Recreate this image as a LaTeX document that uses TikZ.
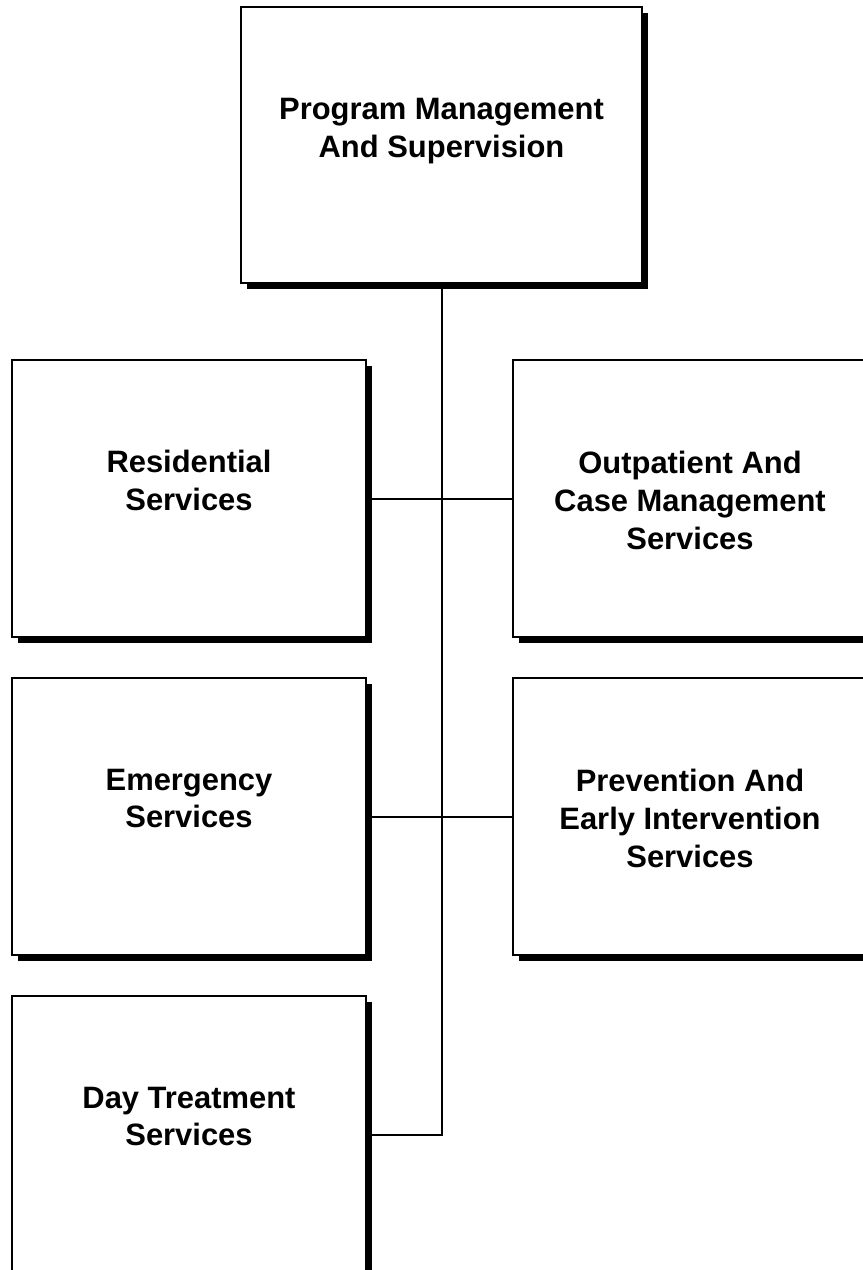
\documentclass[tikz,border=0pt]{standalone}
\usepackage{fontspec}
\setmainfont{Liberation Sans}
\usetikzlibrary{shadows}

\tikzset{
  unit/.style={draw=black, line width=0.04cm, fill=white, minimum width=7.08cm, minimum height=5.54cm,
    drop shadow={shadow xshift=0.12cm, shadow yshift=-0.12cm, fill=black, opacity=1}},
  lbl/.style={align=center, inner sep=0pt, font=\fontsize{17.6pt}{21.6pt}\selectfont\bfseries},
  link/.style={black, line width=0.04cm}
}

\begin{document}
\begin{tikzpicture}[x=0.02cm, y=-0.02cm]
\useasboundingbox (0,0) rectangle (862,1270);

\node[unit, minimum width=8.02cm, minimum height=5.52cm] (prog) at (441.5,145) {}; %top
\node[unit] (res) at (189,498.5) {};
\node[unit] (outp) at (690,498.5) {};
\node[unit] (emer) at (189,816.5) {};
\node[unit] (prev) at (690,816.5) {};
\node[unit] (day) at (189,1134.5) {};

\node[lbl] (progtxt) at ([yshift=0.27cm]prog.center) {Program Management\\And Supervision};
\node[lbl] (restxt) at ([yshift=0.36cm]res.center) {Residential\\Services};
\node[lbl] (outptxt) at ([yshift=-0.04cm]outp.center) {Outpatient And\\Case Management\\Services};
\node[lbl] (emertxt) at ([yshift=0.36cm]emer.center) {Emergency\\Services};
\node[lbl] (prevtxt) at ([yshift=-0.04cm]prev.center) {Prevention And\\Early Intervention\\Services};
\node[lbl] (daytxt) at ([yshift=0.36cm]day.center) {Day Treatment\\Services};

\draw[link] (prog.south) -- (prog.south |- day.east) -- (day.east); %trunk
\draw[link] (res.east) -- (outp.west);
\draw[link] (emer.east) -- (prev.west);
\end{tikzpicture}
\end{document}
